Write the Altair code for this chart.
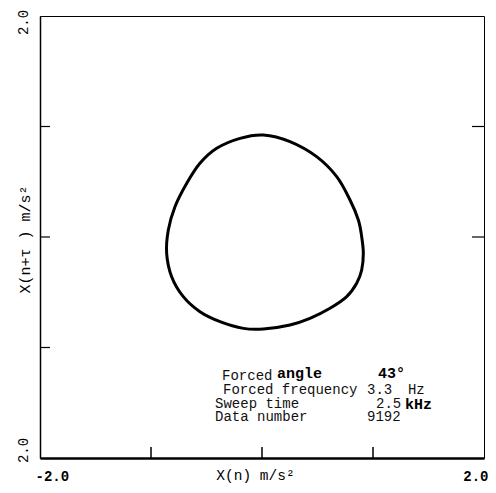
import altair as alt
import pandas as pd

# ---- data ----
loop_x = [0.012, 0.252, 0.492, 0.673, 0.793, 0.868, 0.898, 0.913, 0.898, 0.853,
          0.763, 0.613, 0.432, 0.252, 0.012, -0.168, -0.378, -0.559, -0.709, -0.814,
          -0.859, -0.844, -0.784, -0.678, -0.559, -0.408, -0.198]
loop_y = [0.923, 0.863, 0.727, 0.546, 0.335, 0.154, 0.003, -0.148, -0.299, -0.419,
          -0.540, -0.645, -0.736, -0.796, -0.833, -0.827, -0.766, -0.676, -0.540, -0.359,
          -0.148, 0.063, 0.274, 0.486, 0.667, 0.803, 0.893]

x_label_values = [-2.0, 2.0]
x_label_texts = ["-2.0", "2.0"]
y_label_values = [-2.0, 2.0]
y_label_texts = ["2.0", "2.0"]
x_tick_values = [-1.0, 0.0, 1.0]
y_tick_values_left = [-1.0, 0.0, 1.0]
y_tick_values_right = [0.0, 1.0]

ann_text = ["Forced", "angle", "43°",
            "Forced frequency", "3.3", "Hz",
            "Sweep time", "2.5", "kHz",
            "Data number", "9192"]
ann_x = [-0.360, 0.135, 1.045,
         -0.351, 0.946, 1.315,
         -0.423, 1.027, 1.288,
         -0.423, 0.946]
ann_y = [-1.258, -1.231, -1.231,
         -1.385, -1.385, -1.385,
         -1.511, -1.511, -1.511,
         -1.629, -1.629]
ann_bold = [False, True, True,
            False, False, False,
            False, False, True,
            False, False]

FONT = "Liberation Mono"
W, H = 444, 442

loop_df = pd.DataFrame({"x": loop_x, "y": loop_y, "i": list(range(len(loop_x)))})
xt_df = pd.DataFrame({"v": x_tick_values})
ytl_df = pd.DataFrame({"v": y_tick_values_left})
ytr_df = pd.DataFrame({"v": y_tick_values_right})
ann_df = pd.DataFrame({"t": ann_text, "x": ann_x, "y": ann_y, "b": ann_bold})

xs = alt.Scale(domain=[-2, 2], nice=False, zero=False)
ys = alt.Scale(domain=[-2, 2], nice=False, zero=False)


def label_expr(values, texts):
    parts = ""
    for v, t in zip(values, texts):
        parts += f"datum.value == {v} ? '{t}' : "
    return parts + "''"


x_axis = alt.Axis(
    values=x_label_values,
    labelExpr=label_expr(x_label_values, x_label_texts),
    ticks=False, grid=False,
    domainColor="black", domainWidth=2.5,
    labelFont=FONT, labelFontSize=14, labelFontWeight="bold", labelColor="black",
    labelPadding=11, labelFlush=True,
    labelOffset={"condition": {"test": "datum.value < 0", "value": -5}, "value": 4},
    title="X(n) m/s²", titleFont=FONT, titleFontSize=14.5, titleFontWeight="normal",
    titleColor="black", titleX=215, titleY=17, titleBaseline="middle", titleAlign="center",
)
y_axis = alt.Axis(
    values=y_label_values,
    labelExpr=label_expr(y_label_values, y_label_texts),
    ticks=False, grid=False,
    domainColor="black", domainWidth=1.5,
    labelFont=FONT, labelFontSize=14, labelColor="black",
    labelAngle=270, labelPadding=10, labelFlush=False,
    labelOffset={"condition": {"test": "datum.value > 0", "value": 6}, "value": -8},
    title="X(n+τ ) m/s²", titleFont=FONT, titleFontSize=15, titleFontWeight="normal",
    titleColor="black", titleX=-16, titleY=223, titleAngle=270,
    titleAlign="center", titleBaseline="middle",
)

loop = alt.Chart(loop_df).mark_line(
    color="black", strokeWidth=3, interpolate="cardinal-closed"
).encode(
    x=alt.X("x:Q", scale=xs, axis=x_axis),
    y=alt.Y("y:Q", scale=ys, axis=y_axis),
    order="i:Q",
)

bottom_ticks = alt.Chart(xt_df).mark_rule(color="black", strokeWidth=1.5).encode(
    x=alt.X("v:Q", scale=xs),
    y=alt.value(H), y2=alt.value(H - 11),
)
left_ticks = alt.Chart(ytl_df).mark_rule(color="black", strokeWidth=1.2).encode(
    y=alt.Y("v:Q", scale=ys),
    x=alt.value(0), x2=alt.value(10),
)
right_ticks = alt.Chart(ytr_df).mark_rule(color="black", strokeWidth=1.2).encode(
    y=alt.Y("v:Q", scale=ys),
    x=alt.value(W), x2=alt.value(W - 12),
)

ann_base = alt.Chart(ann_df).encode(
    x=alt.X("x:Q", scale=xs),
    y=alt.Y("y:Q", scale=ys),
    text="t:N",
)
ann_normal = ann_base.transform_filter("!datum.b").mark_text(
    font=FONT, fontSize=14, align="left", baseline="middle", color="#111"
)
ann_boldm = ann_base.transform_filter("datum.b").mark_text(
    font=FONT, fontSize=15, fontWeight="bold", align="left", baseline="middle", color="black"
)

chart = alt.layer(loop, bottom_ticks, left_ticks, right_ticks, ann_normal, ann_boldm).properties(
    width=W, height=H,
    autosize=alt.AutoSizeParams(type="none"),
    padding={"left": 32, "top": 8, "right": 4, "bottom": 27},
).configure_view(
    stroke="black", strokeWidth=1
)

chart.save("out.html", embed_options={"renderer": "svg", "actions": False})
